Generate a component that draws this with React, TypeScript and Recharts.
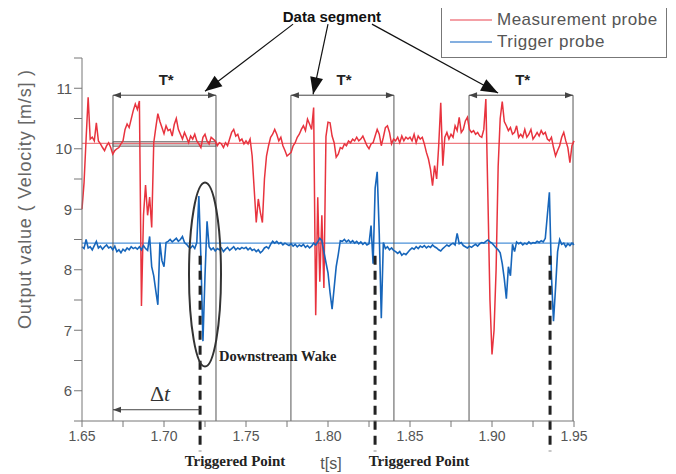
import React from 'react';
import { LineChart, Line, XAxis, YAxis, ReferenceLine, ReferenceArea, ReferenceDot } from 'recharts';

// sampled every 1.25 ms from t = 1.65 s
const T_START = 1.65;
const T_STEP = 0.00125;

const measurement = [
  9.0, 9.44, 10.16, 10.85, 10.16, 10.19, 10.13, 10.43, 10.13, 10.08,
  10.02, 9.97, 10.05, 10.1, 10.02, 9.91, 9.97, 10.0, 10.02, 10.08,
  10.13, 10.32, 10.41, 10.35, 10.49, 10.63, 10.74, 10.65, 10.79, 7.4,
  8.9, 9.4, 8.9, 9.2, 8.7, 10.1, 10.35, 10.58, 10.45, 10.35,
  10.25, 10.38, 10.3, 10.32, 10.21, 10.4, 10.5, 10.32, 10.24, 10.16,
  10.27, 10.19, 10.1, 10.21, 10.16, 10.24, 10.13, 10.08, 10.02, 10.19,
  10.24, 10.13, 10.08, 10.19, 10.16, 10.13, 10.05, 10.1, 10.08, 10.02,
  10.1, 10.05, 10.16, 10.27, 10.32, 10.21, 10.24, 10.13, 10.16, 10.08,
  10.13, 10.08, 10.16, 9.88, 9.33, 8.78, 9.17, 8.95, 8.78, 9.5,
  9.88, 10.05, 10.19, 10.24, 10.32, 10.24, 10.13, 10.19, 10.05, 9.97,
  9.88, 9.91, 9.94, 10.05, 10.1, 10.19, 10.24, 10.32, 10.38, 10.3,
  10.49, 10.41, 10.32, 10.68, 7.25, 9.2, 7.8, 8.9, 7.7, 10.2,
  10.44, 10.43, 10.21, 10.1, 9.86, 9.91, 10.02, 10.0, 10.08, 10.05,
  10.13, 10.1, 10.16, 10.13, 10.19, 10.13, 10.16, 10.21, 10.13, 10.05,
  10.0, 10.08, 10.1, 10.21, 10.32, 10.24, 10.05, 10.19, 10.35, 10.38,
  10.27, 10.08, 10.16, 10.13, 10.19, 10.1, 10.21, 10.13, 10.19, 10.16,
  10.19, 10.13, 10.24, 10.1, 10.21, 10.16, 10.19, 10.08, 9.94, 9.83,
  9.66, 9.39, 9.72, 9.5, 10.05, 10.76, 9.72, 10.19, 10.27, 10.16,
  10.24, 10.19, 10.38, 10.3, 10.52, 10.27, 10.32, 10.46, 10.52, 10.32,
  10.27, 10.3, 10.24, 10.27, 10.21, 10.19, 10.32, 10.82, 9.2, 7.5,
  6.6, 7.0, 8.0, 9.7, 10.5, 10.78, 10.45, 10.38, 10.3, 10.35,
  10.24, 10.27, 10.38, 10.19, 10.24, 10.19, 10.32, 10.19, 10.24, 10.32,
  10.16, 10.21, 10.27, 10.21, 10.3, 10.24, 10.27, 10.16, 10.13, 10.19,
  10.02, 9.88, 9.97, 10.05, 10.19, 10.27, 10.13, 10.02, 9.77, 10.05, 10.13,
];

const trigger = [
  8.38, 8.35, 8.5, 8.36, 8.38, 8.33, 8.4, 8.47, 8.36, 8.39,
  8.34, 8.38, 8.41, 8.36, 8.38, 8.33, 8.39, 8.3, 8.33, 8.28,
  8.34, 8.31, 8.36, 8.33, 8.38, 8.35, 8.37, 8.34, 8.38, 8.33,
  8.4, 8.35, 8.32, 8.55, 8.05, 7.9, 7.65, 7.42, 8.45, 8.15,
  8.05, 8.45, 8.47, 8.5, 8.46, 8.49, 8.52, 8.47, 8.5, 8.55,
  8.45, 8.42, 8.38, 8.36, 8.4, 8.35, 8.45, 9.22, 8.2, 6.82,
  7.9, 8.8, 8.38, 8.33, 8.36, 8.31, 8.35, 8.33, 8.36, 8.3,
  8.34, 8.37, 8.32, 8.35, 8.38, 8.33, 8.36, 8.34, 8.37, 8.35,
  8.37, 8.33, 8.36, 8.32, 8.34, 8.3, 8.33, 8.28, 8.31, 8.36,
  8.38, 8.35, 8.42, 8.47, 8.44, 8.47, 8.43, 8.45, 8.41, 8.44,
  8.42, 8.4, 8.43, 8.39, 8.42, 8.38, 8.41, 8.39, 8.42, 8.37,
  8.4, 8.36, 8.39, 8.44, 8.41, 8.46, 8.52, 8.48, 8.3, 8.12,
  7.95, 7.62, 7.35, 7.7, 8.05, 8.25, 8.48, 8.47, 8.5, 8.46,
  8.49, 8.45, 8.48, 8.44, 8.47, 8.43, 8.46, 8.42, 8.45, 8.41,
  8.43, 8.73, 8.1, 9.35, 9.62, 8.6, 7.2, 8.45, 8.35, 8.38,
  8.33, 8.36, 8.32, 8.3, 8.27, 8.3, 8.24, 8.27, 8.25, 8.29,
  8.33, 8.36, 8.34, 8.38, 8.35, 8.39, 8.37, 8.4, 8.36, 8.39,
  8.37, 8.41, 8.38, 8.36, 8.33, 8.31, 8.35, 8.38, 8.41, 8.39,
  8.42, 8.44, 8.41, 8.6, 8.43, 8.45, 8.4, 8.38, 8.36, 8.39,
  8.37, 8.4, 8.42, 8.39, 8.43, 8.45, 8.44, 8.47, 8.49, 8.46,
  8.44, 8.4, 8.36, 8.33, 8.28, 8.1, 7.85, 7.52, 8.05, 7.9,
  8.42, 8.3, 8.46, 8.43, 8.45, 8.41, 8.44, 8.42, 8.46, 8.43,
  8.45, 8.44, 8.47, 8.45, 8.48, 8.46, 8.52, 8.9, 9.28, 7.9,
  7.15, 7.7, 8.3, 8.5, 8.42, 8.44, 8.38, 8.43, 8.4, 8.44, 8.41,
];

const xTicks = [1.65, 1.675, 1.7, 1.725, 1.75, 1.775, 1.8, 1.825, 1.85, 1.875, 1.9, 1.925, 1.95];
const yTicks = [5.5, 6, 6.5, 7, 7.5, 8, 8.5, 9, 9.5, 10, 10.5, 11, 11.5];

// T* windows and triggered points [s]
const segStart = [1.6689, 1.7774, 1.886];
const segEnd = [1.7317, 1.8402, 1.9494];
const triggeredAt = [1.722, 1.8287, 1.9354];

const RED_LEVEL = 10.09;
const BLUE_LEVEL = 8.44;

const RED = '#e8333e';
const BLUE = '#1766bb';

const data = measurement.map((m, i) => ({
  t: T_START + i * T_STEP,
  measurement: m,
  trigger: trigger[i],
}));

const headPts = (x1: number, y1: number, x2: number, y2: number, len: number, w: number) => {
  const a = Math.atan2(y2 - y1, x2 - x1);
  const bx = x2 - len * Math.cos(a);
  const by = y2 - len * Math.sin(a);
  const px = (-Math.sin(a) * w) / 2;
  const py = (Math.cos(a) * w) / 2;
  return `${x2},${y2} ${bx + px},${by + py} ${bx - px},${by - py}`;
};

const arrow = (color: string, width: number, len: number, w: number, both = false) => (p: any) => (
  <g>
    <line x1={p.x1} y1={p.y1} x2={p.x2} y2={p.y2} stroke={color} strokeWidth={width} />
    <polygon points={headPts(p.x1, p.y1, p.x2, p.y2, len, w)} fill={color} />
    {both && <polygon points={headPts(p.x2, p.y2, p.x1, p.y1, len, w)} fill={color} />}
  </g>
);

const note = (key: string, x: number, y: number, text: React.ReactNode, style: any, rotate = 0) => (
  <ReferenceDot
    key={key}
    x={x}
    y={y}
    r={0}
    ifOverflow="visible"
    isFront
    shape={(p: any) => (
      <text
        x={p.cx}
        y={p.cy}
        textAnchor="middle"
        transform={rotate ? `rotate(${rotate} ${p.cx} ${p.cy})` : undefined}
        {...style}
      >
        {text}
      </text>
    )}
  />
);

const sans = 'Liberation Sans, Arial, sans-serif';
const serif = 'Liberation Serif, Times New Roman, serif';

export default function App() {
  return (
    <div style={{ position: 'relative', width: 668, height: 466, fontFamily: sans }}>
      <LineChart
        width={668}
        height={466}
        data={data}
        margin={{ top: 50, right: 102, left: 0, bottom: 23 }}
      >
        <XAxis
          dataKey="t"
          type="number"
          domain={[1.65, 1.95]}
          ticks={xTicks}
          interval={0}
          tickSize={6}
          tickMargin={4}
          height={30}
          stroke="#777"
          tick={{ fill: '#555', fontSize: 14 }}
          tickFormatter={(v: number) => (Math.round(v * 1000) % 50 === 0 ? v.toFixed(2) : '')}
        />
        <YAxis
          type="number"
          domain={[5.5, 11.5]}
          ticks={yTicks}
          interval={0}
          width={74}
          tickSize={8}
          tickMargin={2}
          stroke="#777"
          tick={{ fill: '#555', fontSize: 15 }}
          tickFormatter={(v: number) => (Number.isInteger(v) ? String(v) : '')}
        />

        <ReferenceArea
          x1={segStart[0]}
          x2={segEnd[0]}
          y1={10.04}
          y2={10.12}
          fill="#c8c8c8"
          fillOpacity={1}
          stroke="#888"
          strokeWidth={1}
        />
        <ReferenceLine y={RED_LEVEL} stroke="#ec5a62" strokeWidth={1} />
        <ReferenceLine y={BLUE_LEVEL} stroke="#4a90d8" strokeWidth={1.2} />

        {segStart.map((s, i) => (
          <ReferenceLine key={`vs${i}`} segment={[{ x: s, y: 10.885 }, { x: s, y: 5.5 }]} stroke="#555" strokeWidth={1} ifOverflow="visible" />
        ))}
        {segEnd.map((s, i) => (
          <ReferenceLine key={`ve${i}`} segment={[{ x: s, y: 10.885 }, { x: s, y: 5.5 }]} stroke="#555" strokeWidth={1} ifOverflow="visible" />
        ))}

        <Line type="linear" dataKey="measurement" stroke={RED} strokeWidth={1.5} dot={false} isAnimationActive={false} />
        <Line type="linear" dataKey="trigger" stroke={BLUE} strokeWidth={1.6} dot={false} isAnimationActive={false} />

        {segStart.map((s, i) => (
          <ReferenceLine
            key={`ts${i}`}
            segment={[{ x: s, y: 10.885 }, { x: segEnd[i], y: 10.885 }]}
            ifOverflow="visible"
            isFront
            shape={arrow('#444', 1, 8, 6, true)}
          />
        ))}
        {segStart.map((s, i) =>
          note(`tl${i}`, (s + segEnd[i]) / 2 + 0.001, 11.05, 'T*', { fontSize: 15, fontWeight: 700, fill: '#222', fontFamily: sans })
        )}

        {triggeredAt.map((t, i) => (
          <ReferenceLine
            key={`tp${i}`}
            segment={[{ x: t, y: 8.23 }, { x: t, y: 5.0 }]}
            stroke="#222"
            strokeWidth={3}
            strokeDasharray="9 6"
            ifOverflow="visible"
            isFront
          />
        ))}

        <ReferenceDot
          x={1.725}
          y={7.92}
          r={0}
          ifOverflow="visible"
          isFront
          shape={(p: any) => <ellipse cx={p.cx} cy={p.cy} rx={16} ry={92} fill="none" stroke="#333" strokeWidth={2} />}
        />

        <ReferenceLine segment={[{ x: 1.7787, y: 12.06 }, { x: 1.725, y: 10.95 }]} ifOverflow="visible" isFront shape={arrow('#111', 1.2, 17, 13)} />
        <ReferenceLine segment={[{ x: 1.8, y: 12.06 }, { x: 1.7909, y: 10.9 }]} ifOverflow="visible" isFront shape={arrow('#111', 1.2, 17, 13)} />
        <ReferenceLine segment={[{ x: 1.8268, y: 12.06 }, { x: 1.9037, y: 10.92 }]} ifOverflow="visible" isFront shape={arrow('#111', 1.2, 17, 13)} />

        <ReferenceLine segment={[{ x: triggeredAt[0], y: 5.686 }, { x: segStart[0], y: 5.686 }]} ifOverflow="visible" isFront shape={arrow('#444', 1, 8, 6)} />

        {note('ds', 1.8024, 12.1, 'Data segment', { fontSize: 15, fontWeight: 700, fill: '#111', fontFamily: sans })}
        {note('dw', 1.7335, 6.495, 'Downstream Wake', { fontSize: 14.5, fontWeight: 700, fill: '#222', fontFamily: serif, textAnchor: 'start' })}
        {note('dt', 1.6976, 5.835, <><tspan>Δ</tspan><tspan fontStyle="italic">t</tspan></>, { fontSize: 22, fill: '#333', fontFamily: serif })}
        {note('tp1', 1.7433, 4.762, 'Triggered Point', { fontSize: 15, fontWeight: 700, fill: '#222', fontFamily: serif })}
        {note('tp2', 1.8555, 4.762, 'Triggered Point', { fontSize: 15, fontWeight: 700, fill: '#222', fontFamily: serif })}
        {note('tx', 1.8018, 4.71, 't[s]', { fontSize: 16, fill: '#555', fontFamily: sans })}
        {note('yl', 1.6152, 9.168, 'Output value ( Velocity [m/s] )', { fontSize: 18, letterSpacing: 0.8, fill: '#666', fontFamily: sans, dominantBaseline: 'central' }, -90)}
      </LineChart>

      <div
        style={{
          position: 'absolute',
          left: 433,
          top: -3,
          width: 224,
          height: 48,
          border: '1px solid #777',
          background: '#fff',
          color: '#555',
          fontSize: 17,
          letterSpacing: 0.5,
          lineHeight: '22px',
          padding: '3px 0 0 0',
        }}
      >
        {[
          { name: 'Measurement probe', color: '#f08088' },
          { name: 'Trigger probe', color: '#5b95d6' },
        ].map((it) => (
          <div key={it.name} style={{ display: 'flex', alignItems: 'center', height: 22 }}>
            <svg width={55} height={10} style={{ flex: 'none' }}>
              <line x1={8} y1={5} x2={50} y2={5} stroke={it.color} strokeWidth={1.5} />
            </svg>
            <span>{it.name}</span>
          </div>
        ))}
      </div>
    </div>
  );
}
